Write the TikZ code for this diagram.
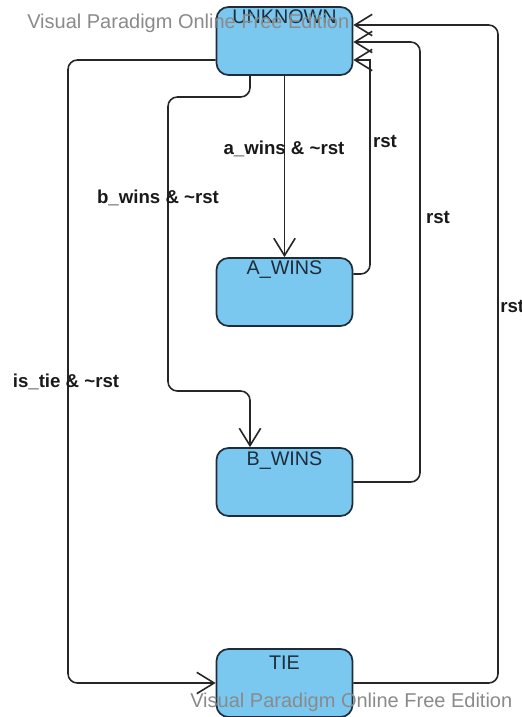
\documentclass[tikz,border=0pt]{standalone}
\usepackage{fontspec}
\setmainfont{Liberation Sans}
\usetikzlibrary{arrows.meta}
\definecolor{boxfill}{HTML}{7AC8F0}
\definecolor{boxline}{HTML}{1F2D3A}
\definecolor{wm}{HTML}{8A8A8A}
\begin{document}
\begin{tikzpicture}[x=0.75pt,y=-0.75pt,
  statebox/.style={draw=boxline, fill=boxfill, line width=1.3pt, rounded corners=9pt,
    minimum width=102pt, minimum height=51pt, inner sep=0pt},
  statename/.style={font=\fontsize{14.8}{17}\selectfont, text=boxline, inner sep=0pt},
  guard/.style={font=\fontsize{14}{16}\selectfont\bfseries, text=black!90, inner sep=0pt},
  conn/.style={draw=black!85, line width=1.2pt, rounded corners=7pt},
  tipv/.style={-{Straight Barb[length=13pt,width=16pt,line width=1.2pt]}},
  wmark/.style={font=\fontsize{15}{18}\selectfont, text=wm, inner sep=0pt, anchor=west}]
\useasboundingbox (0,0) rectangle (521,717);

% states
\node[statebox] (unk) at (284.5,41) {};
\node[statebox] (awin) at (284.5,292) {};
\node[statebox] (bwin) at (284.5,482) {};
\node[statebox] (tie) at (284.5,683) {};

\node[statename] (unkT) at (284.5,17) {UNKNOWN};
\node[statename] (awinT) at (284.5,270) {A\_WINS};
\node[statename] (bwinT) at (284.5,461) {B\_WINS};
\node[statename] (tieT) at (284.5,663) {TIE};

% helper coordinates
\coordinate (bA) at (250,97);
\coordinate (bB) at (168,97);
\coordinate (bC) at (168,391);
\coordinate (bD) at (250,391);
\coordinate (aTop) at (370,60);

% transitions
\draw[conn,tipv] (unk.south) -- (awin.north);
\draw[conn,tipv] (unk.south -| bA) -- (bA) -- (bB) -- (bC) -- (bD) -- (bwin.north -| bD);
\draw[conn,tipv] ([yshift=-14.25pt]unk.west) -- (68,60) -- (68,683) -- (tie.west);
\draw[conn,tipv] ([yshift=13.5pt]awin.east) -- (370,274) [sharp corners] -- (aTop) -- ([yshift=-14.25pt]unk.east);
\draw[conn,tipv] (bwin.east) -- (420,482) -- (420,42) -- ([yshift=-0.75pt]unk.east);
\draw[conn,tipv] (tie.east) -- (498,683) -- (498,25) -- ([yshift=12pt]unk.east);

% guards
\node[guard] (gA) at (284,149) {a\_wins \& \textasciitilde rst};
\node[guard] (gB) at (158,198) {b\_wins \& \textasciitilde rst};
\node[guard] (gT) at (66,382) {is\_tie \& \textasciitilde rst};
\node[guard] (rA) at (385,142) {rst};
\node[guard] (rB) at (438,218) {rst};
\node[guard, anchor=west] (rT) at (500,306) {rst};

% watermarks
\node[wmark] (wm1) at (27,23) {Visual Paradigm Online Free Edition};
\node[wmark] (wm2) at (190,702) {Visual Paradigm Online Free Edition};
\end{tikzpicture}
\end{document}
